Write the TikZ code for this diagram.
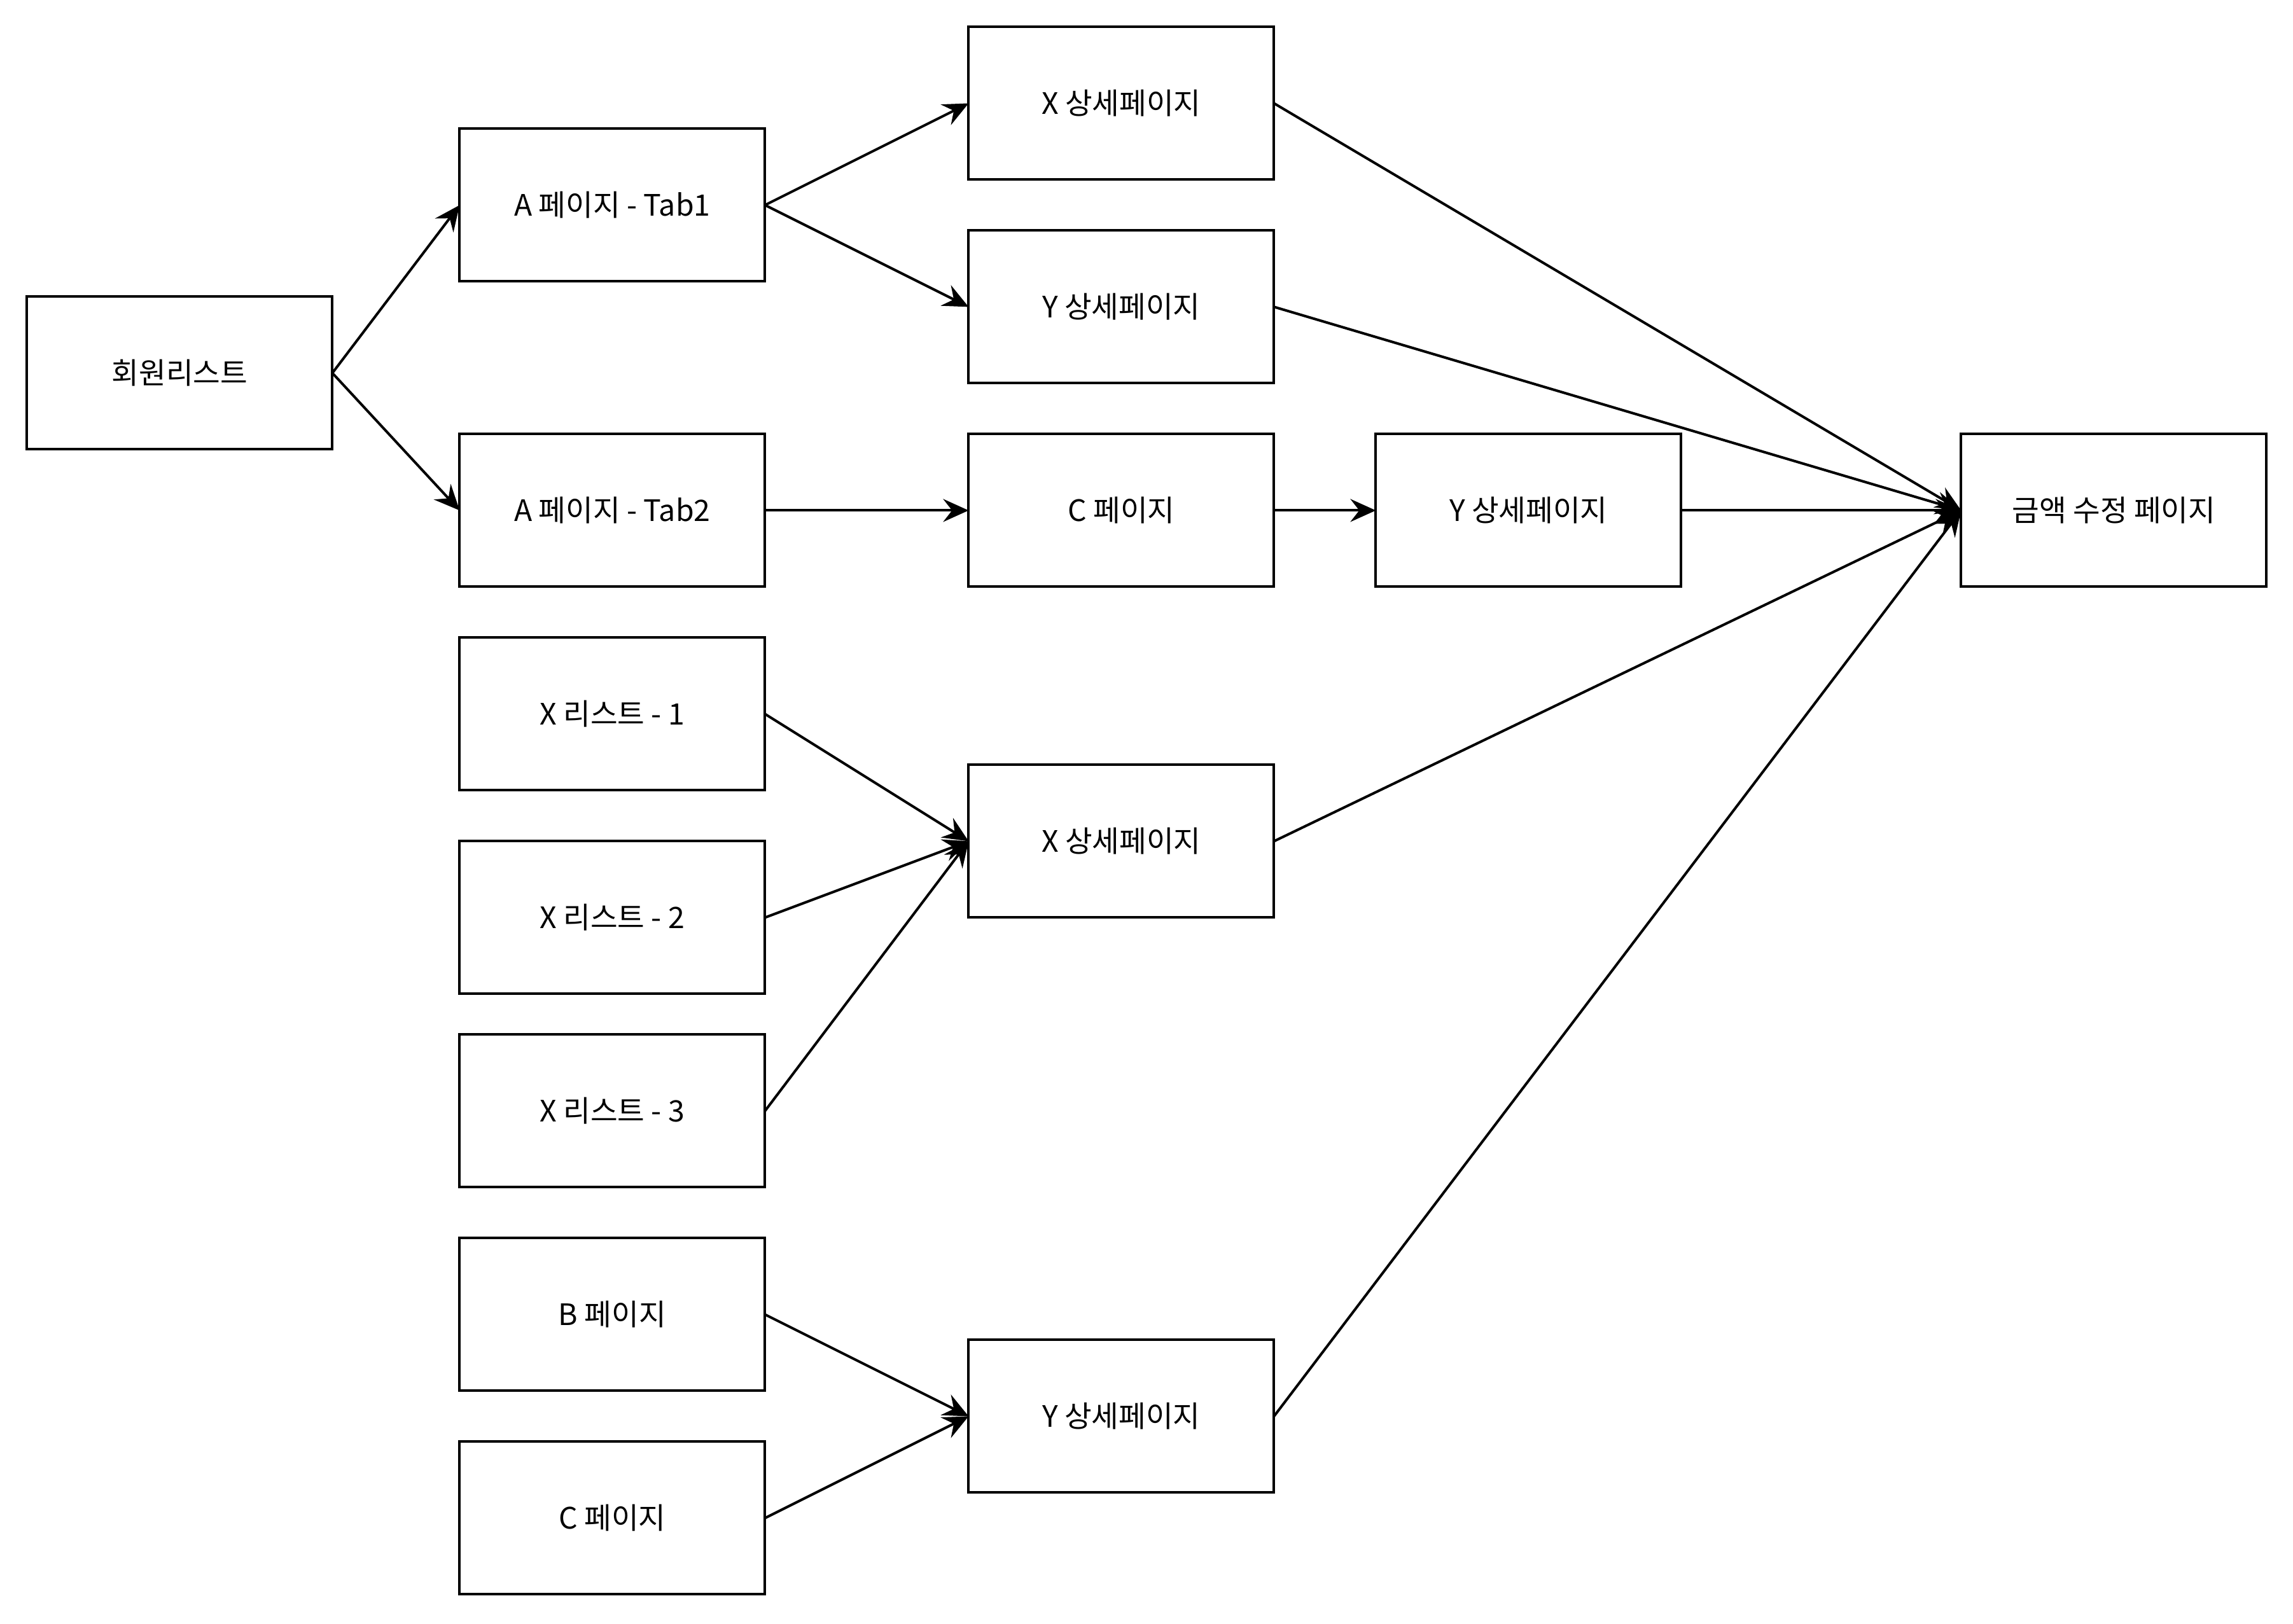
\documentclass[tikz,border=0pt]{standalone}
\usepackage{fontspec}
\setmainfont{Noto Sans CJK KR}
\usepackage{tikz}
\usetikzlibrary{arrows.meta, positioning}

\begin{document}
\begin{tikzpicture}[
    x=1pt, y=-1pt,
    page/.style={rectangle, draw=black, line width=1pt, fill=white,
                 minimum width=120pt, minimum height=60pt, align=center,
                 inner sep=2pt, outer sep=0pt,
                 font=\fontsize{11.6}{13}\selectfont},
    arrow/.style={-{Stealth[length=10pt, width=9pt, inset=3.5pt]}, line width=1pt}
]
    \path[fill=white] (-0.6,-0.6) rectangle (900.4,637.4);
    \useasboundingbox (-0.6,-0.6) rectangle (900.4,637.4);

    \node[page] (members) at (70,146) {회원리스트};

    \node[page] (tab1) at (240,80) {A 페이지 - Tab1};
    \node[page] (tab2) [below=60pt of tab1] {A 페이지 - Tab2};

    \node[page] (xdet) at (440,40) {X 상세페이지};
    \node[page] (ydet) [below=20pt of xdet] {Y 상세페이지};

    \node[page] (cpage) [right=80pt of tab2] {C 페이지};
    \node[page] (ydet2) [right=40pt of cpage] {Y 상세페이지};
    \node[page] (edit) [right=110pt of ydet2] {금액 수정 페이지};

    \node[page] (xlist1) [below=20pt of tab2] {X 리스트 - 1};
    \node[page] (xlist2) [below=20pt of xlist1] {X 리스트 - 2};
    \node[page] (xlist3) [below=16pt of xlist2] {X 리스트 - 3};
    \node[page] (xdet2) at (440,330) {X 상세페이지};

    \node[page] (bpage) [below=20pt of xlist3] {B 페이지};
    \node[page] (cpage2) [below=20pt of bpage] {C 페이지};
    \node[page] (ydet3) at (440,556) {Y 상세페이지};

    \draw[arrow] (members.east) -- (tab1.west);
    \draw[arrow] (members.east) -- (tab2.west);
    \draw[arrow] (tab1.east) -- (xdet.west);
    \draw[arrow] (tab1.east) -- (ydet.west);
    \draw[arrow] (tab2.east) -- (cpage.west);
    \draw[arrow] (cpage.east) -- (ydet2.west);

    \draw[arrow] (xlist1.east) -- (xdet2.west);
    \draw[arrow] (xlist2.east) -- (xdet2.west);
    \draw[arrow] (xlist3.east) -- (xdet2.west);
    \draw[arrow] (bpage.east) -- (ydet3.west);
    \draw[arrow] (cpage2.east) -- (ydet3.west);

    \draw[arrow] (xdet.east) -- (edit.west);
    \draw[arrow] (ydet.east) -- (edit.west);
    \draw[arrow] (ydet2.east) -- (edit.west);
    \draw[arrow] (xdet2.east) -- (edit.west);
    \draw[arrow] (ydet3.east) -- (edit.west);
\end{tikzpicture}
\end{document}
